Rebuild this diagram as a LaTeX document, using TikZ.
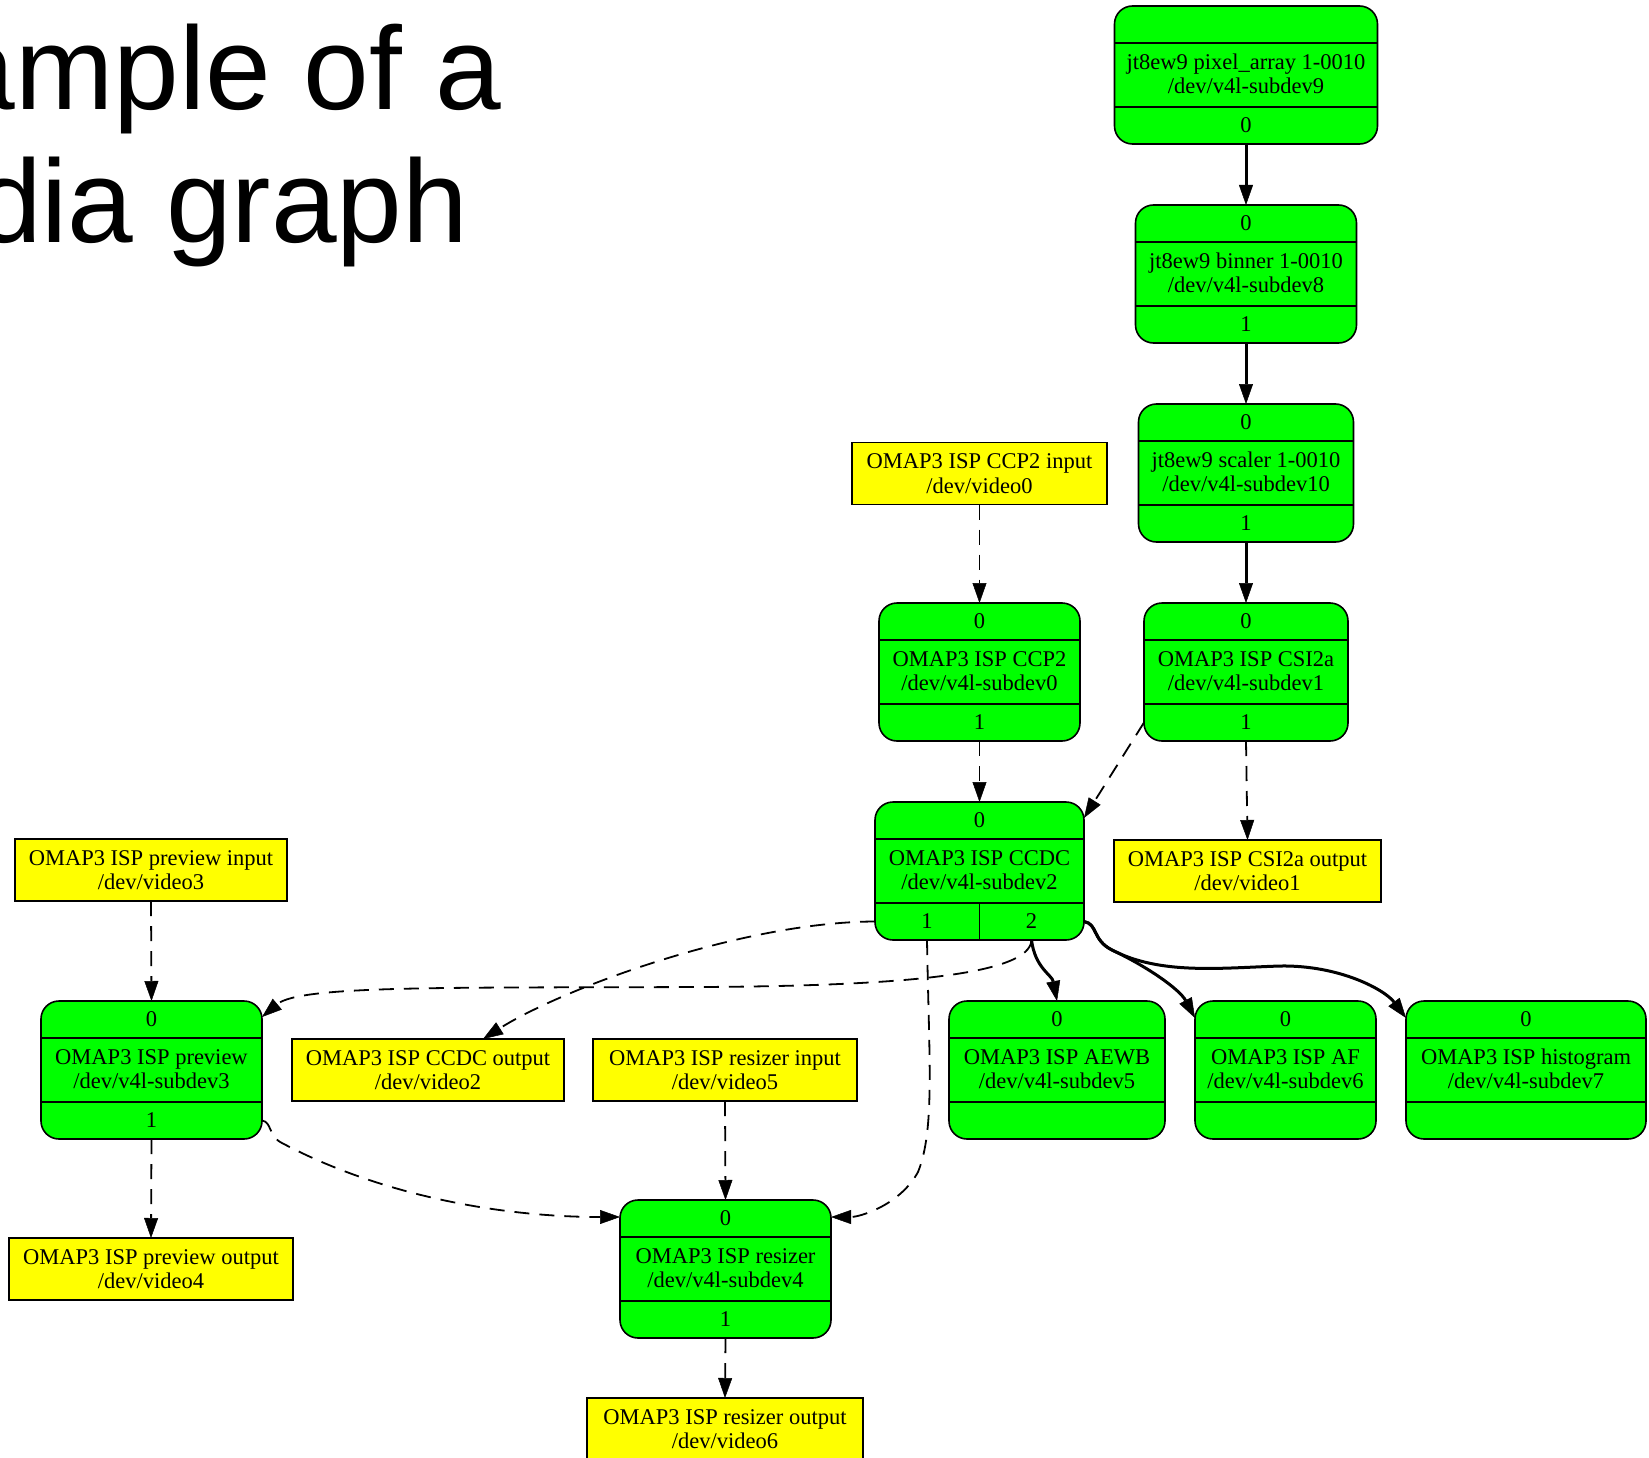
\documentclass[tikz,border=0pt]{standalone}
\usepackage{fontspec}
\usetikzlibrary{arrows.meta}
\newfontfamily\graphfont{Liberation Serif}
\newfontfamily\titlefont{Liberation Sans}
\definecolor{subdevgreen}{HTML}{00FF00}
\definecolor{videoyellow}{HTML}{FFFF00}
\tikzstyle{entity}=[draw,line width=1.6pt,fill=subdevgreen,rounded corners=18pt,minimum height=138pt,inner sep=0pt,outer sep=0pt]
\tikzstyle{devnode}=[draw,line width=1.6pt,fill=videoyellow,minimum height=62pt,inner sep=0pt,outer sep=0pt,align=center,font=\graphfont\fontsize{22.5}{24.5}\selectfont]
\tikzstyle{pad}=[inner sep=0pt,font=\graphfont\fontsize{22.5}{24.5}\selectfont]
\tikzstyle{sep}=[line width=1.6pt]

% one media entity: name, centre x, top y, width, sink pad, label, source pad
\newcommand{\entitybox}[7]{%
  \node[entity,minimum width=#4] (#1) at (#2,#3+69) {};
  \draw[sep] ([yshift=-37pt]#1.north west) -- ([yshift=-37pt]#1.north east);
  \draw[sep] ([yshift=37pt]#1.south west) -- ([yshift=37pt]#1.south east);
  \node[pad] (#1-in) at (#2,#3+18.5) {#5};
  \node[pad,align=center] (#1-name) at (#2,#3+68) {#6};
  \node[pad] (#1-out) at (#2,#3+119.5) {#7};
}

\begin{document}
\begin{tikzpicture}[x=1pt,y=-1pt]
    \tikzstyle{link}=[line width=3pt,-{Triangle[length=20pt,width=14pt,line width=0.5pt]}]
    \tikzstyle{vlink}=[line width=1.8pt,dash pattern=on 15pt off 10pt,-{Triangle[length=20pt,width=14pt,line width=0.5pt]}]
    \tikzstyle{heading}=[font=\titlefont\fontsize{118}{132}\selectfont,inner sep=0pt,anchor=base west]
    \useasboundingbox (0,0) rectangle (1649,1458);

    \node[heading] (title1) at (-188,110) {Example of a};
    \node[heading] (title2) at (-188,242) {media graph};

    % sensor pipeline
    \entitybox{parray}{1246}{6}{263}{}{jt8ew9 pixel\_array 1-0010\\/dev/v4l-subdev9}{0}
    \entitybox{binner}{1246}{205}{221}{0}{jt8ew9 binner 1-0010\\/dev/v4l-subdev8}{1}
    \entitybox{scaler}{1246}{404}{215}{0}{jt8ew9 scaler 1-0010\\/dev/v4l-subdev10}{1}

    % ISP entities
    \entitybox{ccp2}{979.5}{603}{201}{0}{OMAP3 ISP CCP2\\/dev/v4l-subdev0}{1}
    \entitybox{csi}{1246}{603}{204}{0}{OMAP3 ISP CSI2a\\/dev/v4l-subdev1}{1}
    \entitybox{ccdc}{979.5}{802}{209}{0}{OMAP3 ISP CCDC\\/dev/v4l-subdev2}{}
    \draw[sep] ([yshift=37pt]ccdc.south) -- (ccdc.south);
    \node[pad] (ccdc-p1) at (927,921.5) {1};
    \node[pad] (ccdc-p2) at (1031.5,921.5) {2};
    \entitybox{preview}{151.5}{1001}{221}{0}{OMAP3 ISP preview\\/dev/v4l-subdev3}{1}
    \entitybox{aewb}{1057}{1001}{216}{0}{OMAP3 ISP AEWB\\/dev/v4l-subdev5}{}
    \entitybox{af}{1285.5}{1001}{181}{0}{OMAP3 ISP AF\\/dev/v4l-subdev6}{}
    \entitybox{hist}{1526}{1001}{240}{0}{OMAP3 ISP histogram\\/dev/v4l-subdev7}{}
    \entitybox{resizer}{725.5}{1200}{211}{0}{OMAP3 ISP resizer\\/dev/v4l-subdev4}{1}

    % video nodes
    \node[devnode,minimum width=255] (ccp2in) at (979.5,473.5) {OMAP3 ISP CCP2 input\\/dev/video0};
    \node[devnode,minimum width=267] (csiout) at (1247.5,871) {OMAP3 ISP CSI2a output\\/dev/video1};
    \node[devnode,minimum width=272] (previn) at (151,870) {OMAP3 ISP preview input\\/dev/video3};
    \node[devnode,minimum width=272] (ccdcout) at (428,1070) {OMAP3 ISP CCDC output\\/dev/video2};
    \node[devnode,minimum width=264] (resin) at (725,1070) {OMAP3 ISP resizer input\\/dev/video5};
    \node[devnode,minimum width=284] (prevout) at (151,1269) {OMAP3 ISP preview output\\/dev/video4};
    \node[devnode,minimum width=276] (resout) at (725,1429) {OMAP3 ISP resizer output\\/dev/video6};

    % enabled links
    \draw[link] (parray.south) -- (binner.north);
    \draw[link] (binner.south) -- (scaler.north);
    \draw[link] (scaler.south) -- (csi.north);
    \draw[link] (ccdc-p2 |- ccdc.south) .. controls (1035,968) and (1052,975) .. (aewb.north);
    \draw[link] (ccdc-p2 -| ccdc.east) .. controls (1098,924) and (1092,940) .. (1112,950)
        .. controls (1150,968) and (1180,990) .. ([yshift=-17pt]af.north west);
    \draw[link] (ccdc-p2 -| ccdc.east) .. controls (1098,924) and (1092,940) .. (1112,950)
        .. controls (1160,975) and (1220,968) .. (1280,966)
        .. controls (1340,965) and (1385,990) .. ([yshift=-17pt]hist.north west);

    % disabled links
    \draw[vlink] (ccp2in.south) -- (ccp2.north);
    \draw[vlink] (ccp2.south) -- (ccdc.north);
    \draw[vlink] (csi-out -| csi.west) -- ([yshift=-16pt]ccdc.north east);
    \draw[vlink] (csi.south) -- (csiout.north);
    \draw[vlink] (previn.south) -- (preview.north);
    \draw[vlink] (preview.south) -- (prevout.north);
    \draw[vlink] (ccdc-p1 -| ccdc.west) .. controls (740,922) and (560,990) .. ([xshift=55pt]ccdcout.north);
    \draw[vlink] (ccdc-p1 |- ccdc.south) .. controls (929,1060) and (935,1130) .. (918,1172)
        .. controls (900,1205) and (860,1217) .. ([yshift=-17pt]resizer.north east);
    \draw[vlink] (ccdc-p2 |- ccdc.south) .. controls (1030,975) and (900,986) .. (700,987)
        .. controls (450,988) and (300,985) .. ([yshift=-16pt]preview.north east);
    \draw[vlink] (preview-out -| preview.east) .. controls (272,1122) and (268,1136) .. (282,1143)
        .. controls (380,1195) and (500,1217) .. ([yshift=-17pt]resizer.north west);
    \draw[vlink] (resin.south) -- (resizer.north);
    \draw[vlink] (resizer.south) -- (resout.north);
\end{tikzpicture}
\end{document}
